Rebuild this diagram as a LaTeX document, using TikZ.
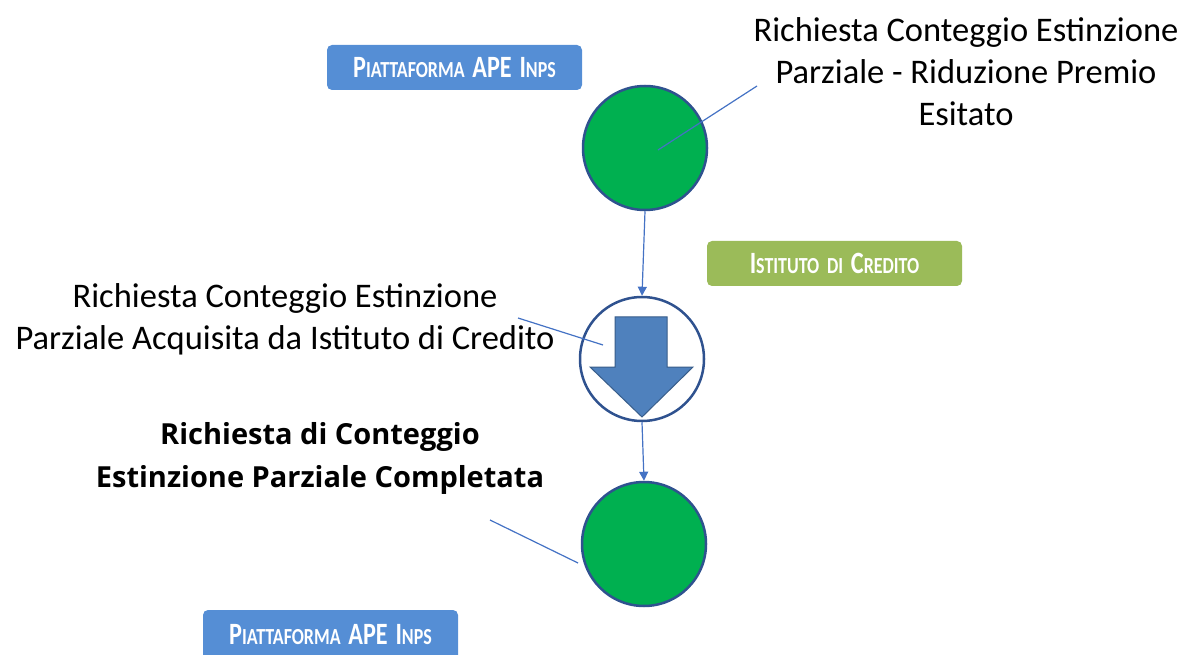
\documentclass[tikz,border=0pt]{standalone}
\usepackage{fontspec}
\setmainfont{Carlito}
\newfontfamily\boldfont{Open Sans}
\usetikzlibrary{arrows.meta}
\definecolor{ngreen}{RGB}{0,176,80}
\definecolor{nborder}{RGB}{47,82,143}
\definecolor{lblue}{RGB}{68,114,196}
\definecolor{tagblue}{RGB}{85,142,213}
\definecolor{taggreen}{RGB}{155,187,89}
\definecolor{arrfill}{RGB}{79,129,189}
\definecolor{arrdraw}{RGB}{56,93,138}
\newcommand{\capsc}[2]{{\fontsize{31}{31}\selectfont #1}{\fontsize{23}{23}\selectfont #2}}
\newcommand{\tagtext}[1]{\scalebox{0.78}[1]{\bfseries #1}}
\newcommand{\tsp}{\hspace{10pt}}
\tikzset{
  greencirc/.style={circle, draw=nborder, line width=2.5pt, fill=ngreen, minimum size=124pt, inner sep=0pt},
  whitecirc/.style={circle, draw=nborder, line width=2.5pt, fill=white, minimum size=124pt, inner sep=0pt},
  flowline/.style={draw=lblue, line width=1.2pt, -{Triangle[length=9pt,width=9pt]}},
  callout/.style={draw=lblue, line width=1.2pt},
  tag/.style={rounded corners=5pt, text=white, minimum width=255pt, minimum height=45pt, inner sep=0pt},
  lbl/.style={align=center, font=\fontsize{34.5}{42}\selectfont, inner sep=0pt},
  blbl/.style={align=center, font=\boldfont\bfseries\fontsize{29}{43}\selectfont, inner sep=0pt}
}
\begin{document}
\begin{tikzpicture}[x=1pt,y=-1pt]
\useasboundingbox (0,0) rectangle (1195,655);
% nodes
\node[greencirc] (c1) at (645,148) {};
\node[whitecirc] (c2) at (642,359) {};
\node[greencirc] (c3) at (644,544) {};
% down arrow inside c2
\draw[fill=arrfill, draw=arrdraw, line width=1pt]
  (615,317) -- (667,317) -- (667,367) -- (693,367) -- (642,417) -- (590,367) -- (615,367) -- cycle;
% tags
\node[tag, fill=tagblue] (t1) at (454.5,67.5) {\tagtext{\capsc{P}{IATTAFORMA}\tsp\capsc{APE}{}\tsp\capsc{I}{NPS}}};
\node[tag, fill=taggreen] (t2) at (834.5,263.5) {\tagtext{\capsc{I}{STITUTO}\tsp\capsc{}{DI}\tsp\capsc{C}{REDITO}}};
\node[tag, fill=tagblue, minimum height=50pt] (t3) at (330.5,635) {\tagtext{\capsc{P}{IATTAFORMA}\tsp\capsc{APE}{}\tsp\capsc{I}{NPS}}};
% labels
\node[lbl] (l1) at (966,72) {Richiesta Conteggio Estinzione\\Parziale - Riduzione Premio\\Esitato};
\node[lbl] (l2) at (285,319) {Richiesta Conteggio Estinzione\\Parziale Acquisita da Istituto di Credito};
\node[blbl] (l3) at (320,458) {Richiesta di Conteggio\\Estinzione Parziale Completata};
% callout anchors
\coordinate (p1a) at (757,86);
\coordinate (p1b) at (658,150);
\coordinate (p2a) at (518,318);
\coordinate (p2b) at (603,345);
\coordinate (p3a) at (490,520);
\coordinate (p3b) at (578,563);
\draw[callout] (p1a) -- (p1b);
\draw[callout] (p2a) -- (p2b);
\draw[callout] (p3a) -- (p3b);
% flow
\draw[flowline] (c1.south) -- (c2.north);
\draw[flowline] (c2.south) -- (c3.north);
\end{tikzpicture}
\end{document}
